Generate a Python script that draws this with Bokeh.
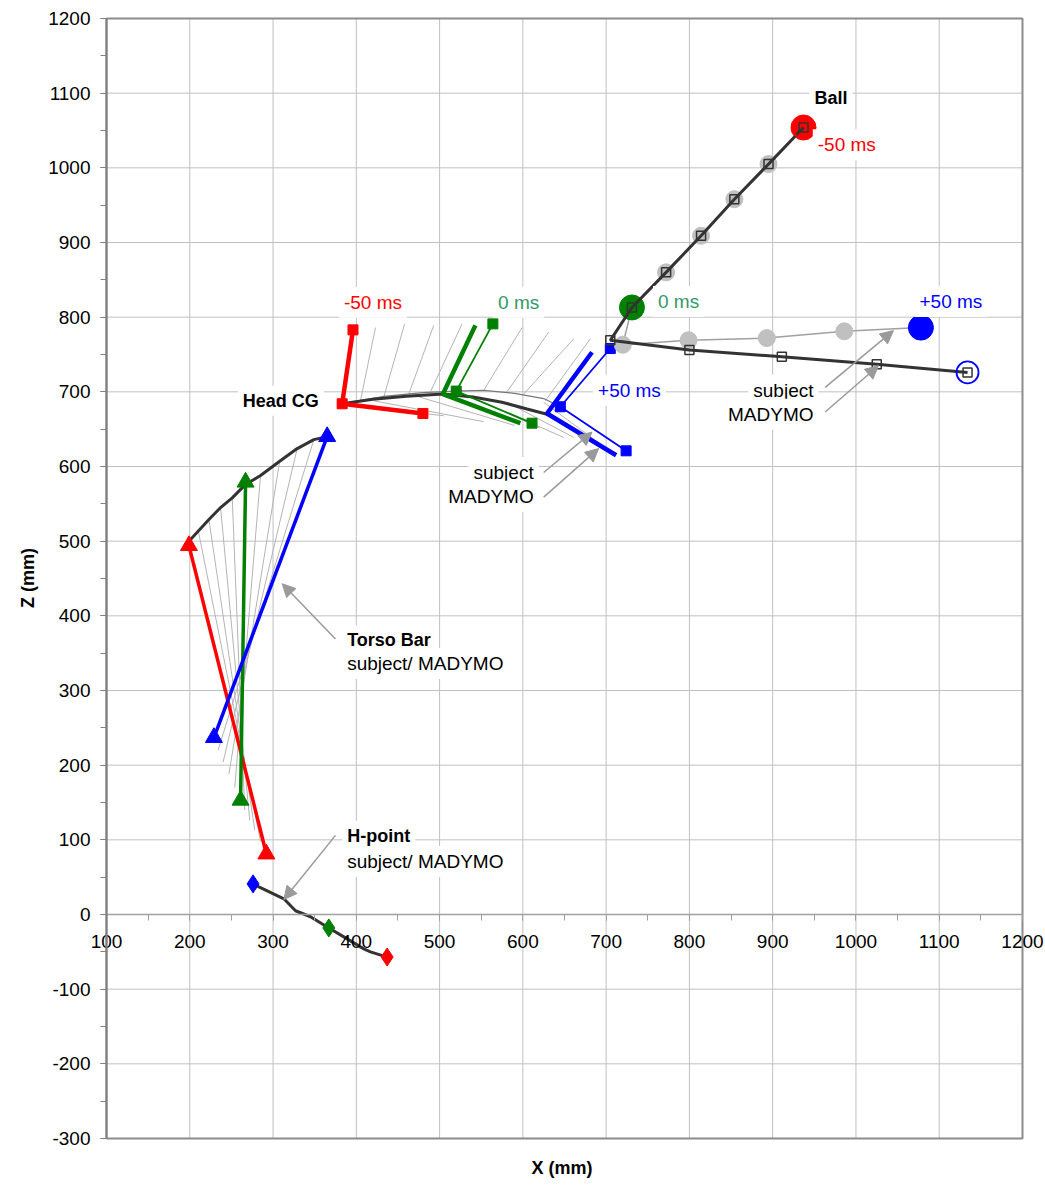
from bokeh.plotting import figure
from bokeh.models import LinearAxis, Label, Arrow, NormalHead, FixedTicker, Title
from bokeh.embed import file_html
from bokeh.resources import INLINE

FONT = "Liberation Sans"

# ---------------- data ----------------
x_ticks = list(range(100, 1201, 100))
x_minor = list(range(100, 1201, 50))
z_ticks = list(range(-300, 1201, 100))
z_minor = list(range(-300, 1201, 50))

colors_t = ["#FF0000", "#008000", "#0000FF"]   # -50 ms, 0 ms, +50 ms

# Head CG: subject (thick lines) and MADYMO (thin lines + squares)
head_subj_cg_x = [383, 504, 629]
head_subj_cg_z = [684, 697, 671]
head_subj_up_x = [396, 543, 683]
head_subj_up_z = [783, 789, 753]
head_subj_fw_x = [480, 597, 712]
head_subj_fw_z = [671, 658, 615]
head_mad_cg_x = [383, 520, 645]
head_mad_cg_z = [684, 701, 680]
head_mad_up_x = [396, 564, 705]
head_mad_up_z = [783, 791, 758]
head_mad_fw_x = [480, 611, 724]
head_mad_fw_z = [671, 658, 621]

head_subj_traj_x = [383, 420, 460, 504, 540, 575, 605, 629]
head_subj_traj_z = [684, 690, 694, 697, 693, 686, 677, 670]
head_mad_traj_x = [383, 433, 480, 520, 553, 590, 625, 645]
head_mad_traj_z = [684, 694, 699, 701, 702, 698, 691, 680]

# intermediate head frames (thin grey)
hash_up_x0 = [405, 433, 463, 489, 553, 581, 601, 627]
hash_up_z0 = [688, 693, 697, 700, 702, 700, 697, 688]
hash_up_x1 = [423, 458, 493, 527, 599, 631, 661, 681]
hash_up_z1 = [786, 791, 789, 791, 786, 780, 771, 771]
hash_dn_x0 = [387, 421, 470, 525, 553, 581, 625]
hash_dn_z0 = [682, 688, 695, 699, 686, 686, 686]
hash_dn_x1 = [505, 553, 590, 620, 649, 661, 709]
hash_dn_z1 = [668, 660, 655, 652, 639, 639, 617]

# Torso bar
torso_top_x = [199, 267, 365]
torso_top_z = [494, 579, 640]
torso_bot_x = [292, 261, 229]
torso_bot_z = [81, 153, 237]
torso_traj_x = [199, 223, 237, 251, 267, 285, 308, 329, 349, 365]
torso_traj_z = [500, 529, 545, 558, 576, 588, 607, 624, 636, 640]
fan_top_x = [210, 223, 237, 251, 285, 308, 329, 349]
fan_top_z = [515, 529, 545, 558, 588, 607, 624, 636]
fan_bot_x = [285, 278, 272, 266, 254, 247, 240, 234]
fan_bot_z = [98, 113, 126, 140, 170, 188, 204, 220]

# H-point
hp_traj_x = [276, 283, 313, 327, 345, 367, 385, 409, 417, 437]
hp_traj_z = [41, 37, 21, 5, -3, -18, -30, -46, -50, -57]
hp_mark_x = [437, 367, 276]   # -50, 0, +50 ms
hp_mark_z = [-57, -18, 41]

# Ball
ball_subj_x = [937, 895, 854, 814, 772, 731, 720, 799, 893, 986, 1078]
ball_subj_z = [1054, 1005, 958, 909, 860, 813, 763, 769, 772, 781, 786]
ball_mad_x = [937, 895, 854, 814, 772, 731, 705, 800, 911, 1025, 1134]
ball_mad_z = [1054, 1005, 958, 909, 860, 813, 769, 756, 747, 737, 726]
ball_subj_key_x = [937, 731, 1078]
ball_subj_key_z = [1054, 813, 786]

# ---------------- layout ----------------
W, H = 1045, 1184
FR_L, FR_R, FR_T, FR_B = 40, 1045, 5, 1150        # drawing frame (px)
BOX_L, BOX_R, BOX_T, BOX_B = 106, 1022, 18, 1138  # visible plot box (px)
x_lo, x_hi = x_ticks[0], x_ticks[-1]
z_lo, z_hi = z_ticks[0], z_ticks[-1]
sx = (BOX_R - BOX_L) / (x_hi - x_lo)
sz = (BOX_B - BOX_T) / (z_hi - z_lo)
x_range = (x_lo - (BOX_L - FR_L) / sx, x_hi + (FR_R - BOX_R) / sx)
z_range = (z_lo - (FR_B - BOX_B) / sz, z_hi + (BOX_T - FR_T) / sz)

p = figure(width=W, height=H, x_range=x_range, y_range=z_range,
           output_backend="svg", toolbar_location=None,
           min_border_left=FR_L, min_border_right=W - FR_R,
           min_border_top=FR_T, min_border_bottom=H - FR_B,
           background_fill_color="white", border_fill_color="white")
p.outline_line_color = None
p.grid.visible = False

TICK_FS = "19px"
GRID = "#c0c0c0"

# grid and box drawn from the tick arrays
p.segment(x0=x_ticks, y0=[z_lo] * len(x_ticks), x1=x_ticks, y1=[z_hi] * len(x_ticks),
          line_color=GRID, line_width=1, level="underlay")
p.segment(x0=[x_lo] * len(z_ticks), y0=z_ticks, x1=[x_hi] * len(z_ticks), y1=z_ticks,
          line_color=GRID, line_width=1, level="underlay")
p.line([x_lo, x_hi, x_hi, x_lo, x_lo], [z_lo, z_lo, z_hi, z_hi, z_lo],
       line_color="#8c8c8c", line_width=2, level="underlay")

xa = p.xaxis[0]
xa.fixed_location = 0
xa.bounds = (x_lo, x_hi)
xa.ticker = FixedTicker(ticks=x_ticks, minor_ticks=x_minor)
xa.axis_line_color = "#a0a0a0"
xa.axis_line_width = 1.5
xa.major_tick_line_color = "#a0a0a0"
xa.minor_tick_line_color = "#a0a0a0"
xa.major_tick_in = 0
xa.major_tick_out = 6
xa.minor_tick_in = 0
xa.minor_tick_out = 6
xa.major_label_standoff = 14
xa.major_label_text_font = FONT
xa.major_label_text_font_size = TICK_FS
xa.major_label_text_color = "black"

ya = p.yaxis[0]
ya.fixed_location = x_lo
ya.bounds = (z_lo, z_hi)
ya.ticker = FixedTicker(ticks=z_ticks, minor_ticks=z_minor)
ya.axis_line_color = "#808080"
ya.axis_line_width = 2
ya.major_tick_line_color = "#808080"
ya.minor_tick_line_color = "#808080"
ya.major_tick_in = 0
ya.major_tick_out = 6
ya.minor_tick_in = 0
ya.minor_tick_out = 6
ya.major_label_standoff = 10
ya.major_label_text_font = FONT
ya.major_label_text_font_size = TICK_FS
ya.major_label_text_color = "black"
ya.major_label_overrides = {t: str(t) for t in z_ticks if t < 0}

# axis titles
p.add_layout(Title(text="X (mm)", align="left", offset=(BOX_L + BOX_R) / 2 - FR_L - 33,
                   text_font=FONT, text_font_size="18px", text_font_style="bold",
                   text_color="black", standoff=11), "below")
p.add_layout(LinearAxis(axis_label="Z (mm)", ticker=FixedTicker(ticks=[]),
                        axis_line_color=None, major_tick_line_color=None, minor_tick_line_color=None,
                        major_tick_in=0, major_tick_out=0, minor_tick_in=0, minor_tick_out=0,
                        axis_label_text_font=FONT, axis_label_text_font_size="18px",
                        axis_label_text_color="black", axis_label_text_font_style="bold",
                        axis_label_standoff=3), "left")

GREY = "#b4b4b4"
DARK = "#333333"

# ---- thin grey intermediate frames ----
p.segment(hash_up_x0, hash_up_z0, hash_up_x1, hash_up_z1, line_color=GREY, line_width=1)
p.segment(hash_dn_x0, hash_dn_z0, hash_dn_x1, hash_dn_z1, line_color=GREY, line_width=1)
p.segment(fan_top_x, fan_top_z, fan_bot_x, fan_bot_z, line_color=GREY, line_width=1)

# ---- trajectories ----
p.line(head_mad_traj_x, head_mad_traj_z, line_color="#777777", line_width=1.2)
p.line(head_subj_traj_x, head_subj_traj_z, line_color=DARK, line_width=3)
p.line(torso_traj_x, torso_traj_z, line_color=DARK, line_width=3)
p.line(hp_traj_x, hp_traj_z, line_color=DARK, line_width=3)

# ---- head lines ----
for i in range(3):
    c = colors_t[i]
    p.line([head_subj_up_x[i], head_subj_cg_x[i], head_subj_fw_x[i]],
           [head_subj_up_z[i], head_subj_cg_z[i], head_subj_fw_z[i]],
           line_color=c, line_width=4.5)
    p.line([head_mad_up_x[i], head_mad_cg_x[i], head_mad_fw_x[i]],
           [head_mad_up_z[i], head_mad_cg_z[i], head_mad_fw_z[i]],
           line_color=c, line_width=1.8)
    p.scatter([head_mad_up_x[i], head_mad_cg_x[i], head_mad_fw_x[i]],
              [head_mad_up_z[i], head_mad_cg_z[i], head_mad_fw_z[i]],
              marker="square", size=10, fill_color=c, line_color=c)

# ---- torso bars ----
for i in range(3):
    c = colors_t[i]
    p.line([torso_top_x[i], torso_bot_x[i]], [torso_top_z[i], torso_bot_z[i]],
           line_color=c, line_width=3.5)
    p.scatter([torso_top_x[i], torso_bot_x[i]], [torso_top_z[i], torso_bot_z[i]],
              marker="triangle", size=17, fill_color=c, line_color=c)

# ---- H-point ----
p.scatter(hp_mark_x, hp_mark_z, marker="diamond", size=18,
          fill_color=colors_t, line_color=colors_t)

# ---- ball ----
p.line(ball_subj_x, ball_subj_z, line_color="#a0a0a0", line_width=1.5)
p.scatter(ball_subj_x, ball_subj_z, marker="circle", size=17,
          fill_color="#c0c0c0", line_color="#c0c0c0")
p.scatter(ball_subj_key_x, ball_subj_key_z, marker="circle", size=25,
          fill_color=colors_t, line_color=colors_t)
p.line(ball_mad_x, ball_mad_z, line_color=DARK, line_width=3)
p.scatter(ball_mad_x, ball_mad_z, marker="square", size=9,
          fill_color=None, line_color=DARK, line_width=1.5)
p.scatter([ball_mad_x[0], ball_mad_x[-1]], [ball_mad_z[0], ball_mad_z[-1]],
          marker="circle", size=22, fill_color=None,
          line_color=[colors_t[0], colors_t[2]], line_width=1.8)

# ---- arrows ----
AR = "#9a9a9a"
def arrow(x0, z0, x1, z1):
    p.add_layout(Arrow(end=NormalHead(size=13, fill_color=AR, line_color=AR),
                       x_start=x0, y_start=z0, x_end=x1, y_end=z1,
                       line_color=AR, line_width=1.5))

arrow(625, 592, 683, 646)
arrow(625, 559, 691, 624)
arrow(963, 706, 1045, 782)
arrow(963, 673, 1027, 735)
arrow(375, 369, 311, 443)
arrow(375, 106, 313, 20)

# ---- labels ----
def label(x, z, text, color="black", align="center", bold=False):
    p.add_layout(Label(x=x, y=z, text=text, text_color=color, text_align=align,
                       text_baseline="middle", text_font=FONT,
                       text_font_size="18px" if bold else "19px",
                       text_font_style="bold" if bold else "normal",
                       background_fill_color="white", padding=5))

label(420, 820, "-50 ms", colors_t[0])
label(595, 820, "0 ms", "#339966")
label(787, 821, "0 ms", "#339966")
label(1114, 821, "+50 ms", colors_t[2])
label(728, 702, "+50 ms", colors_t[2])
label(989, 1031, "-50 ms", colors_t[0])
label(970, 1093, "Ball", bold=True)
label(361, 688, "Head CG", align="right", bold=True)
label(619, 592, "subject", align="right")
label(619, 560, "MADYMO", align="right")
label(955, 702, "subject", align="right")
label(955, 670, "MADYMO", align="right")
label(383, 367, "Torso Bar", align="left", bold=True)
label(383, 336, "subject/ MADYMO", align="left")
label(383, 105, "H-point", align="left", bold=True)
label(383, 71, "subject/ MADYMO", align="left")

open("out.html", "w").write(file_html(p, INLINE))
